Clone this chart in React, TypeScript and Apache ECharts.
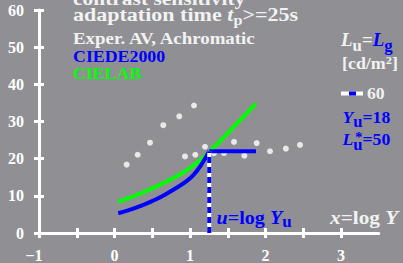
import React, { useEffect, useRef } from 'react';
import * as echarts from 'echarts';

const xTickValues = [-1, -0.5, 0, 0.5, 1, 1.5, 2, 2.5, 3];
const xLabelValues = [-1, 0, 1, 2, 3];
const yTickValues = [0, 10, 20, 30, 40, 50, 60];

const cielab = [[0.05, 8.4], [0.2, 9.5], [0.4, 11.1], [0.6, 13.0], [0.8, 15.0], [0.95, 16.8], [1.1, 19.0], [1.2, 20.7], [1.3, 22.7], [1.45, 25.8], [1.6, 29.0], [1.75, 32.2], [1.874, 34.8]];
const ciede2000 = [[0.05, 5.3], [0.2, 6.2], [0.35, 7.3], [0.5, 8.6], [0.65, 10.1], [0.8, 11.9], [0.95, 13.9], [1.05, 15.7], [1.15, 18.4], [1.255, 22.0]];
const plateau = [[1.255, 22.0], [1.874, 22.0]];
const uLine = [[1.255, 0], [1.255, 22.0]];
const experiment = [
  [0.161, 18.4], [0.307, 21.05], [0.47, 24.3], [0.646, 29.0], [0.858, 31.4], [1.053, 34.3],
  [0.934, 20.6], [1.07, 21.05], [1.199, 23.2], [1.318, 21.5], [1.45, 21.5], [1.583, 24.5],
  [1.72, 20.8], [1.883, 24.2], [2.06, 22.0], [2.27, 22.7], [2.457, 23.7],
];

const FF = 'Liberation Serif';
const WHITE = '#f2f2f2';
const BLUE = '#0000ff';
const GREEN = '#00ff00';
const BG = '#909094';

function tok(size: number, color: string, italic = false, pad = 0, lh = 0) {
  return {
    fontSize: size,
    fontWeight: 'bold',
    fontStyle: italic ? 'italic' : 'normal',
    fontFamily: FF,
    fill: color,
    color: color,
    lineHeight: lh || size + 1,
    verticalAlign: 'top',
    padding: [pad, 0, 0, 0],
  };
}

function txt(x: number, y: number, text: string, rich: any, scaleX: number) {
  return {
    type: 'text',
    x,
    y,
    scaleX,
    z: 100,
    style: {
      text,
      rich,
      fontFamily: FF,
      fontWeight: 'bold',
      verticalAlign: 'middle',
      align: 'left',
    },
  };
}

function plain(x: number, y: number, text: string, size: number, color: string, scaleX: number) {
  return {
    type: 'text',
    x,
    y,
    scaleX,
    z: 100,
    style: {
      text,
      fill: color,
      fontSize: size,
      fontWeight: 'bold',
      fontFamily: FF,
      verticalAlign: 'middle',
      align: 'left',
    },
  };
}

export default function App() {
  const ref = useRef<HTMLDivElement>(null);
  useEffect(() => {
    if (!ref.current) return;
    const chart = echarts.init(ref.current, undefined, { renderer: 'svg' });
    const axisFont = { color: '#ffffff', fontSize: 16, fontWeight: 'bold' as const, fontFamily: FF };
    const lineW = { color: '#ffffff', width: 3 };
    chart.setOption({
      animation: false,
      backgroundColor: BG,
      textStyle: { fontFamily: FF },
      grid: { left: 39, top: 10, width: 339.75, height: 226, containLabel: false },
      xAxis: [
        {
          type: 'value', min: -1, max: 3.5, interval: 0.5, position: 'bottom',
          axisLine: { show: true, onZero: false, lineStyle: lineW },
          axisTick: { show: true, inside: false, length: 5, lineStyle: lineW, customValues: xTickValues },
          axisLabel: {
            show: true, margin: 14, customValues: xLabelValues, ...axisFont,
            formatter: (v: number) => (v === -1 ? '{n|\u22121}' : String(v)),
            rich: { n: { ...axisFont, padding: [0, 10, 0, 0] } },
          },
          splitLine: { show: false },
        },
        {
          type: 'value', min: -1, max: 3.5, interval: 0.5, position: 'bottom',
          axisLine: { show: false, onZero: false },
          axisTick: { show: true, inside: true, length: 5, lineStyle: lineW, customValues: xTickValues },
          axisLabel: { show: false },
          splitLine: { show: false },
        },
      ],
      yAxis: [
        {
          type: 'value', min: 0, max: 60, interval: 10, position: 'left',
          axisLine: { show: true, onZero: false, lineStyle: lineW },
          axisTick: { show: true, inside: false, length: 5, lineStyle: lineW, customValues: yTickValues },
          axisLabel: { show: true, margin: 15, ...axisFont },
          splitLine: { show: false },
        },
        {
          type: 'value', min: 0, max: 60, interval: 10, position: 'left',
          axisLine: { show: false, onZero: false },
          axisTick: { show: true, inside: true, length: 5, lineStyle: lineW, customValues: yTickValues },
          axisLabel: { show: false },
          splitLine: { show: false },
        },
      ],
      series: [
        {
          name: 'Exper. AV', type: 'scatter', data: experiment, symbol: 'circle', symbolSize: 6,
          itemStyle: { color: '#ffffff' }, z: 1,
        },
        {
          name: 'CIELAB', type: 'line', data: cielab, smooth: 0.5, showSymbol: false,
          lineStyle: { color: GREEN, width: 4 }, z: 3,
        },
        {
          name: 'CIEDE2000', type: 'line', data: ciede2000, smooth: 0.5, showSymbol: false,
          lineStyle: { color: BLUE, width: 4 }, z: 4,
        },
        {
          name: 'plateau', type: 'line', data: plateau, showSymbol: false,
          lineStyle: { color: BLUE, width: 4 }, z: 4,
        },
        {
          name: 'uWhite', type: 'line', data: uLine, showSymbol: false,
          lineStyle: { color: '#ffffff', width: 4 }, z: 5,
        },
        {
          name: 'uBlue', type: 'line', data: uLine, showSymbol: false,
          lineStyle: { color: BLUE, width: 4, type: [6, 4] }, z: 6,
        },
      ],
      graphic: [
        plain(73, -2, 'contrast sensitivity', 19, WHITE, 1.13),
        txt(73, 15.5, '{a|adaptation time }{i|t}{s|p}{a|>=25s}', { a: tok(19, WHITE), i: tok(19, WHITE, true), s: tok(14, WHITE, false, 7, 14) }, 1.16),
        plain(73, 39, 'Exper. AV, Achromatic', 16, WHITE, 1.18),
        plain(73, 56, 'CIEDE2000', 17, BLUE, 1.05),
        plain(73, 73.5, 'CIELAB', 17, GREEN, 1.05),
        txt(341, 41, '{i|L}{s|u}{a|=}{b|L}{t|g}', {
          i: tok(18, WHITE, true), s: tok(16, WHITE, false, 6, 16), a: tok(18, WHITE),
          b: tok(18, BLUE, true), t: tok(16, BLUE, false, 6, 16),
        }, 1.05),
        txt(342, 64, '{a|[cd/m}{p|2}{a|]}', { a: tok(16, WHITE), p: tok(11, WHITE, false, 0, 11) }, 1.12),
        { type: 'line', z: 100, shape: { x1: 341, y1: 93.5, x2: 363, y2: 93.5 }, style: { stroke: '#ffffff', lineWidth: 4 } },
        { type: 'line', z: 101, shape: { x1: 349, y1: 93.5, x2: 356, y2: 93.5 }, style: { stroke: BLUE, lineWidth: 4 } },
        plain(367, 94, '60', 16, WHITE, 1.1),
        txt(342.5, 118, '{i|Y}{s|u}{a|=18}', { i: tok(17, BLUE, true), s: tok(16, BLUE, false, 5, 16), a: tok(17, BLUE) }, 1.04),
        txt(342.5, 140.5, '{i|L}{s|u}{a|=50}', { i: tok(17, BLUE, true), s: tok(16, BLUE, false, 5, 16), a: tok(17, BLUE) }, 1.04),
        plain(355, 136.5, '*', 15, BLUE, 1.0),
        txt(216.5, 218, '{i|u}{a|=log }{i|Y}{s|u}', { i: tok(19, BLUE, true), a: tok(19, BLUE), s: tok(16, BLUE, false, 6, 16) }, 1.06),
        txt(330, 218, '{i|x}{a|=log }{i|Y}', { i: tok(19, WHITE, true), a: tok(19, WHITE) }, 1.12),
      ],
    });
    return () => chart.dispose();
  }, []);
  return <div ref={ref} style={{ position: 'fixed', left: 0, top: 0, width: 403, height: 263 }} />;
}
